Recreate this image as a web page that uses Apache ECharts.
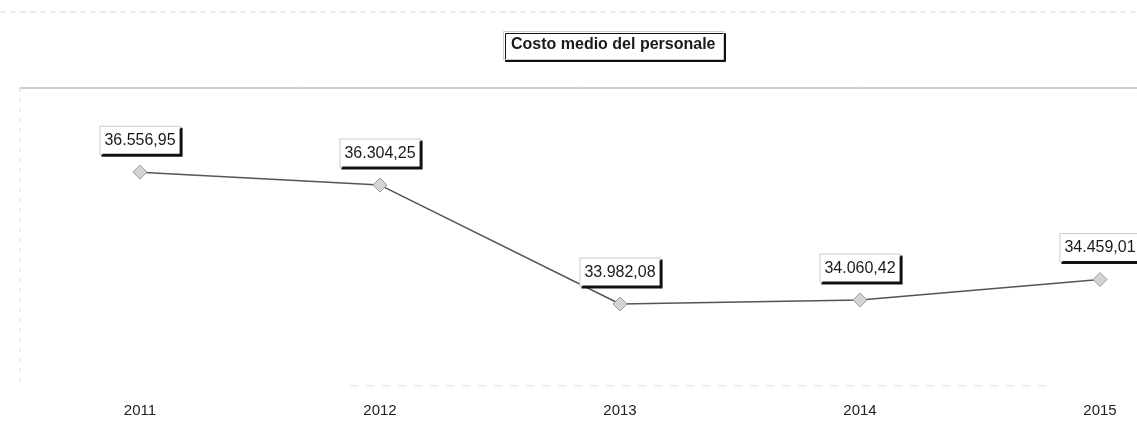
<!DOCTYPE html>
<html>
<head>
<meta charset="utf-8">
<script src="https://cdn.jsdelivr.net/npm/echarts@6/dist/echarts.min.js"></script>
<style>html,body{margin:0;padding:0;background:#fff;}#c{width:1137px;height:432px;}</style>
</head>
<body>
<div id="c"></div>
<script>
const titleText = 'Costo medio del personale';
const years = ['2011', '2012', '2013', '2014', '2015'];
const costs = [36556.95, 36304.25, 33982.08, 34060.42, 34459.01];

function fmtIt(v) {
  const parts = v.toFixed(2).split('.');
  parts[0] = parts[0].replace(/\B(?=(\d{3})+(?!\d))/g, '.');
  return parts[0] + ',' + parts[1];
}

const chart = echarts.init(document.getElementById('c'), null, {renderer: 'canvas'});
chart.setOption({
  backgroundColor: '#ffffff',
  animation: false,
  title: {
    text: titleText,
    left: 503,
    top: 31,
    padding: [6, 8, 7, 8],
    backgroundColor: '#ffffff',
    borderColor: '#cccccc',
    borderWidth: 1,
    shadowColor: '#111111',
    shadowOffsetX: 2,
    shadowOffsetY: 2,
    shadowBlur: 0,
    textStyle: {fontFamily: 'Liberation Sans, Arial, sans-serif', fontSize: 16, fontWeight: 'bold', color: '#1a1a1a'}
  },
  graphic: [
    {type: 'line', shape: {x1: 0, y1: 12, x2: 1137, y2: 12}, style: {stroke: '#d8d8d8', lineWidth: 1, lineDash: [6, 4]}, silent: true},
    {type: 'line', shape: {x1: 20, y1: 88, x2: 1137, y2: 88}, style: {stroke: '#9a9a9a', lineWidth: 1}, silent: true},
    {type: 'line', shape: {x1: 20, y1: 88, x2: 20, y2: 385}, style: {stroke: '#dddddd', lineWidth: 1, lineDash: [4, 6]}, silent: true},
    {type: 'line', shape: {x1: 350, y1: 386, x2: 1050, y2: 386}, style: {stroke: '#dddddd', lineWidth: 1, lineDash: [8, 8]}, silent: true}
  ],
  grid: {left: 140, right: 37, top: 88, bottom: 47},
  xAxis: {
    type: 'category',
    data: years,
    boundaryGap: false,
    axisLine: {show: false},
    axisTick: {show: false},
    axisLabel: {margin: 18, fontFamily: 'Liberation Sans, Arial, sans-serif', fontSize: 15, color: '#222'}
  },
  yAxis: {
    type: 'value',
    min: 32400,
    max: 38200,
    show: false
  },
  series: [{
    type: 'line',
    data: costs,
    symbol: 'diamond',
    symbolSize: 14,
    lineStyle: {color: '#555555', width: 1.5},
    itemStyle: {color: '#d4d4d4', borderColor: '#999999', borderWidth: 1},
    label: {
      show: true,
      position: 'top',
      distance: 11,
      formatter: p => fmtIt(p.value),
      fontFamily: 'Liberation Sans, Arial, sans-serif',
      fontSize: 16,
      color: '#1a1a1a',
      backgroundColor: '#ffffff',
      borderColor: '#cccccc',
      borderWidth: 1,
      padding: [6, 4, 5, 4],
      shadowColor: '#111111',
      shadowOffsetX: 2,
      shadowOffsetY: 2,
      shadowBlur: 0
    }
  }]
});
</script>
</body>
</html>
